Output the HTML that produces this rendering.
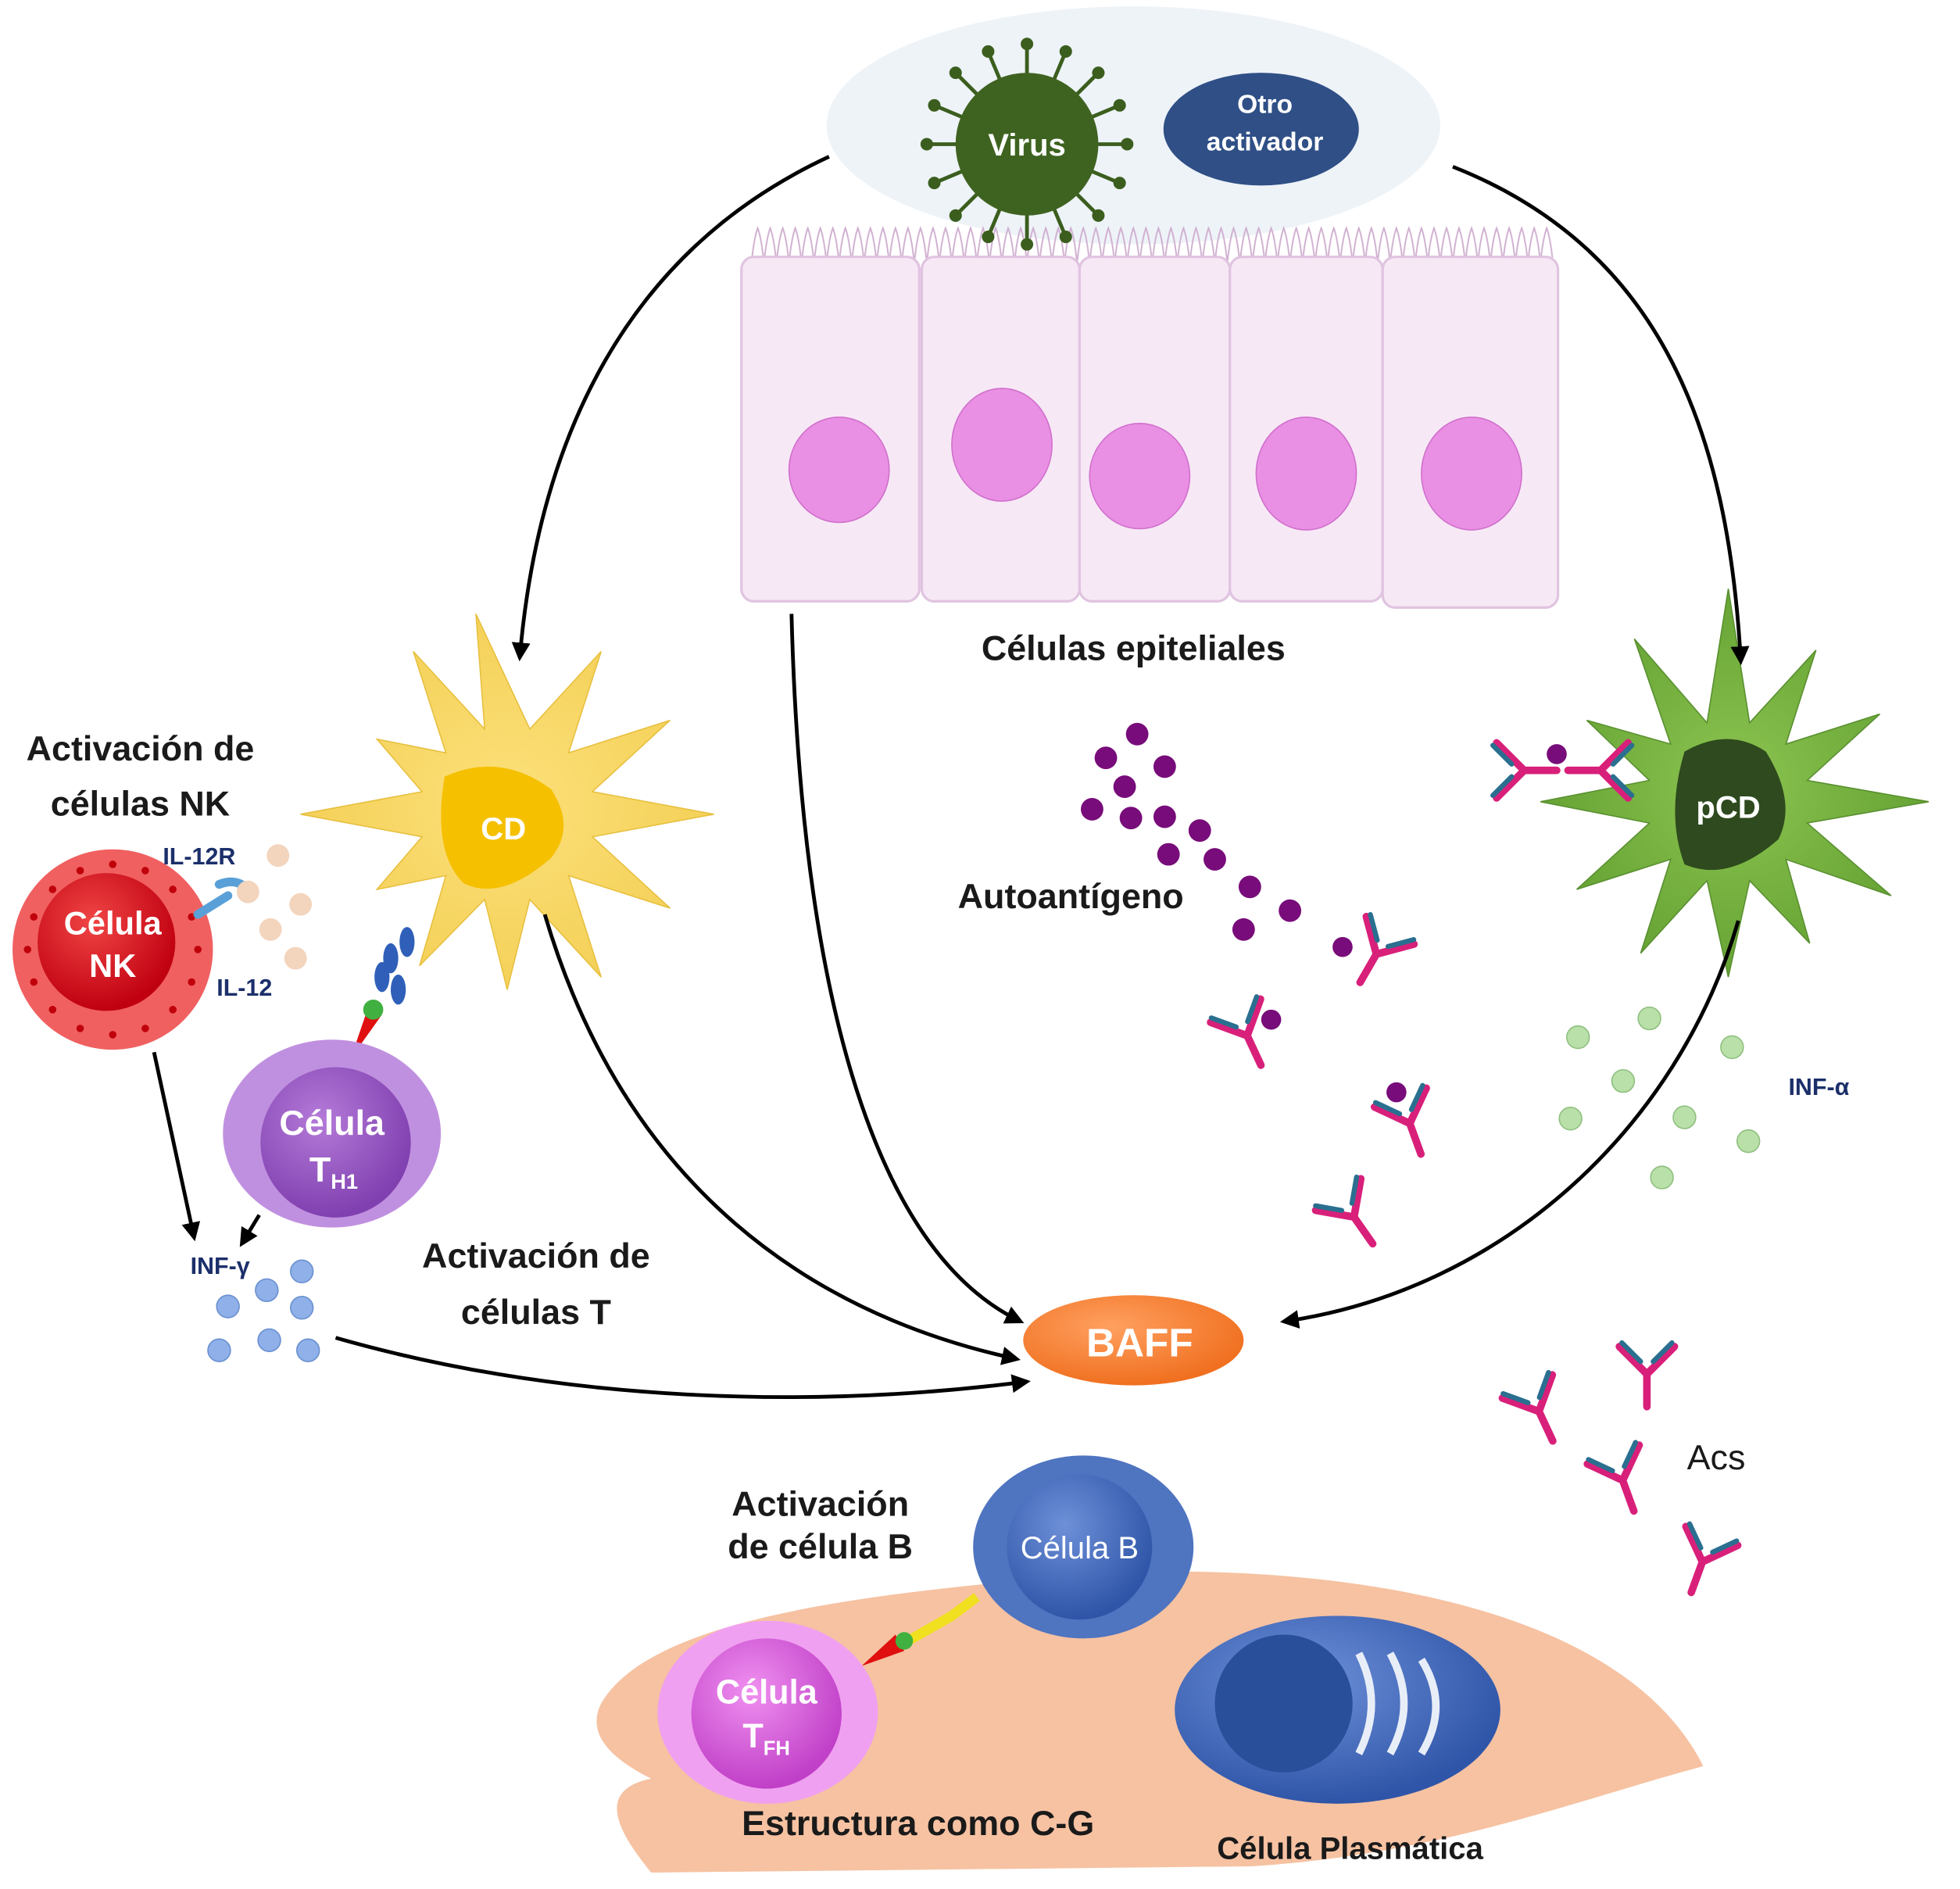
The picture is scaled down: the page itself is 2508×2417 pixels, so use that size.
<!DOCTYPE html>
<html><head><meta charset="utf-8">
<style>html,body{margin:0;padding:0;background:#fff}svg{display:block}
text{font-family:"Liberation Sans",sans-serif;font-weight:bold}</style></head>
<body>
<svg width="2508" height="2417" viewBox="0 0 1565 1508" xmlns="http://www.w3.org/2000/svg">
<defs>
<radialGradient id="gRed" cx="40%" cy="35%" r="65%"><stop offset="0" stop-color="#f04545"/><stop offset="1" stop-color="#c00010"/></radialGradient>
<radialGradient id="gPur" cx="40%" cy="35%" r="65%"><stop offset="0" stop-color="#b47ad8"/><stop offset="1" stop-color="#8040b0"/></radialGradient>
<radialGradient id="gBlue" cx="40%" cy="35%" r="65%"><stop offset="0" stop-color="#6d90d8"/><stop offset="1" stop-color="#2f55a8"/></radialGradient>
<radialGradient id="gPink" cx="40%" cy="35%" r="65%"><stop offset="0" stop-color="#f090f0"/><stop offset="1" stop-color="#c040c8"/></radialGradient>
<radialGradient id="gOr" cx="40%" cy="35%" r="65%"><stop offset="0" stop-color="#ffa060"/><stop offset="1" stop-color="#f07020"/></radialGradient>
<radialGradient id="gY" cx="50%" cy="50%" r="55%"><stop offset="0" stop-color="#fce07a"/><stop offset="1" stop-color="#f3cf55"/></radialGradient>
<radialGradient id="gG" cx="50%" cy="50%" r="55%"><stop offset="0" stop-color="#8cc450"/><stop offset="1" stop-color="#62a032"/></radialGradient>
<marker id="ar" viewBox="0 0 10 10" refX="8" refY="5" markerWidth="5" markerHeight="5" orient="auto"><path d="M0,0L10,5L0,10z" fill="#000"/></marker>
<pattern id="villi" x="0" y="0" width="10" height="30" patternUnits="userSpaceOnUse"><path d="M0,30 Q2,10 5,2 Q8,10 10,30" fill="none" stroke="#d0b0d0" stroke-width="1.2"/></pattern>
<symbol id="ab" viewBox="-30 -30 60 60" overflow="visible">
<g fill="none" stroke-linecap="round">
<path d="M0,28V2M0,2L-22,-20M0,2L22,-20" stroke="#d8207a" stroke-width="6"/>
<path d="M-5,-8L-20,-23M5,-8L20,-23" stroke="#2a6f90" stroke-width="4"/>
</g></symbol>
</defs>

<ellipse cx="905" cy="100" rx="245" ry="95" fill="#eef3f8"/>
<path d="M480,1360 C520,1290 700,1270 900,1255 C1100,1250 1300,1290 1360,1410 C1250,1440 1150,1480 1000,1490 L520,1495 C500,1470 470,1430 520,1420 C480,1400 470,1380 480,1360z" fill="#f6c2a2"/>

<rect x="600" y="180" width="640" height="28" fill="url(#villi)"/>
<g fill="#f7e8f6" stroke="#e0c4e0" stroke-width="2">
<rect x="592" y="205" width="142" height="275" rx="10"/>
<rect x="736" y="205" width="126" height="275" rx="10"/>
<rect x="862" y="205" width="120" height="275" rx="10"/>
<rect x="982" y="205" width="122" height="275" rx="10"/>
<rect x="1104" y="205" width="140" height="280" rx="10"/>
</g>
<g fill="#ea90e4" stroke="#d070cc" stroke-width="1">
<ellipse cx="670" cy="375" rx="40" ry="42"/>
<ellipse cx="800" cy="355" rx="40" ry="45"/>
<ellipse cx="910" cy="380" rx="40" ry="42"/>
<ellipse cx="1043" cy="378" rx="40" ry="45"/>
<ellipse cx="1175" cy="378" rx="40" ry="45"/>
</g>

<!-- virus -->
<g stroke="#3b5e1e" stroke-width="3">
<line x1="900" y1="115" x2="740" y2="115"/><line x1="894" y1="146" x2="746" y2="84"/>
<line x1="877" y1="172" x2="763" y2="58"/><line x1="851" y1="189" x2="789" y2="41"/>
<line x1="820" y1="195" x2="820" y2="35"/><line x1="789" y1="189" x2="851" y2="41"/>
<line x1="763" y1="172" x2="877" y2="58"/><line x1="746" y1="146" x2="894" y2="84"/>
</g>
<g fill="#3b5e1e"><circle cx="900" cy="115" r="5"/><circle cx="894" cy="146" r="5"/><circle cx="877" cy="172" r="5"/><circle cx="851" cy="189" r="5"/><circle cx="820" cy="195" r="5"/><circle cx="789" cy="189" r="5"/><circle cx="763" cy="172" r="5"/><circle cx="746" cy="146" r="5"/><circle cx="740" cy="115" r="5"/><circle cx="746" cy="84" r="5"/><circle cx="763" cy="58" r="5"/><circle cx="789" cy="41" r="5"/><circle cx="820" cy="35" r="5"/><circle cx="851" cy="41" r="5"/><circle cx="877" cy="58" r="5"/><circle cx="894" cy="84" r="5"/></g>
<circle cx="820" cy="115" r="57" fill="#3e6320"/>
<text x="820" y="124" fill="#fff" font-size="25" text-anchor="middle">Virus</text>
<ellipse cx="1007" cy="103" rx="78" ry="45" fill="#2f4f86"/>
<text x="1010" y="90" fill="#fff" font-size="21" text-anchor="middle">Otro</text>
<text x="1010" y="120" fill="#fff" font-size="21" text-anchor="middle">activador</text>

<!-- CD star -->
<polygon fill="url(#gY)" stroke="#e8c040" stroke-width="1" points="570,650 473,668 535,725 454,699 480,780 423,718 405,790 387,718 335,771 356,699 301,710 337,668 240,650 337,632 301,590 356,601 330,520 387,582 380,490 423,582 480,520 454,601 535,575 473,632"/>
<path d="M355,620 Q400,600 440,630 Q460,660 440,685 Q400,720 370,705 Q345,680 355,620z" fill="#f5c000"/>
<text x="402" y="670" fill="#fff" font-size="25" text-anchor="middle">CD</text>

<!-- pCD star -->
<polygon fill="url(#gG)" stroke="#5a9030" stroke-width="1" points="1540,640 1443,657 1510,715 1426,686 1445,753 1397,703 1380,780 1363,703 1310,761 1334,686 1259,710 1317,657 1230,640 1317,623 1267,575 1334,594 1305,510 1363,577 1380,470 1397,577 1450,519 1426,594 1501,570 1443,623"/>
<path d="M1345,600 Q1380,580 1410,600 Q1435,640 1420,670 Q1380,705 1345,690 Q1330,650 1345,600z" fill="#2e4a1e"/>
<text x="1380" y="653" fill="#fff" font-size="25" text-anchor="middle">pCD</text>

<!-- NK -->
<circle cx="90" cy="758" r="80" fill="#f06060"/>
<g fill="#c0000a"><circle cx="158" cy="758" r="3"/><circle cx="153" cy="784" r="3"/><circle cx="138" cy="806" r="3"/><circle cx="116" cy="821" r="3"/><circle cx="90" cy="826" r="3"/><circle cx="64" cy="821" r="3"/><circle cx="42" cy="806" r="3"/><circle cx="27" cy="784" r="3"/><circle cx="22" cy="758" r="3"/><circle cx="27" cy="732" r="3"/><circle cx="42" cy="710" r="3"/><circle cx="64" cy="695" r="3"/><circle cx="90" cy="690" r="3"/><circle cx="116" cy="695" r="3"/><circle cx="138" cy="710" r="3"/><circle cx="153" cy="732" r="3"/></g>
<circle cx="85" cy="752" r="55" fill="url(#gRed)"/>
<text x="90" y="746" fill="#fff" font-size="26" text-anchor="middle">Célula</text>
<text x="90" y="780" fill="#fff" font-size="26" text-anchor="middle">NK</text>
<path d="M158,730 L182,715 M175,706 Q190,700 200,712" stroke="#5aa0d8" stroke-width="7" fill="none" stroke-linecap="round"/>
<g fill="#f3d4bc"><circle cx="222" cy="683" r="9"/><circle cx="198" cy="712" r="9"/><circle cx="240" cy="722" r="9"/><circle cx="216" cy="742" r="9"/><circle cx="236" cy="765" r="9"/></g>
<text x="130" y="690" fill="#1b2f6a" font-size="19">IL-12R</text>
<text x="173" y="795" fill="#1b2f6a" font-size="19">IL-12</text>

<g fill="#2f5fb8"><ellipse cx="325" cy="752" rx="6" ry="12"/><ellipse cx="312" cy="765" rx="6" ry="12"/><ellipse cx="305" cy="780" rx="6" ry="12"/><ellipse cx="318" cy="790" rx="6" ry="12"/></g>
<path d="M280,845 L292,810 L305,810z" fill="#e01010"/>
<circle cx="298" cy="806" r="8" fill="#40b040"/>

<ellipse cx="265" cy="905" rx="87" ry="75" fill="#c090e0"/>
<circle cx="268" cy="912" r="60" fill="url(#gPur)"/>
<text x="265" y="906" fill="#fff" font-size="28" text-anchor="middle">Célula</text>
<text x="247" y="943" fill="#fff" font-size="28">T<tspan font-size="17" dy="6">H1</tspan></text>

<text x="152" y="1017" fill="#1b2f6a" font-size="19">INF-γ</text>
<g fill="#8fb0e8" stroke="#6a90d0"><circle cx="213" cy="1030" r="9"/><circle cx="241" cy="1015" r="9"/><circle cx="182" cy="1043" r="9"/><circle cx="241" cy="1044" r="9"/><circle cx="175" cy="1078" r="9"/><circle cx="215" cy="1070" r="9"/><circle cx="246" cy="1078" r="9"/></g>

<g fill="#780c7a"><circle cx="908" cy="586" r="9"/><circle cx="883" cy="605" r="9"/><circle cx="930" cy="612" r="9"/><circle cx="898" cy="628" r="9"/><circle cx="872" cy="646" r="9"/><circle cx="903" cy="653" r="9"/><circle cx="930" cy="652" r="9"/><circle cx="958" cy="663" r="9"/><circle cx="933" cy="682" r="9"/><circle cx="970" cy="686" r="9"/><circle cx="998" cy="708" r="9"/><circle cx="1030" cy="727" r="9"/><circle cx="993" cy="742" r="9"/><circle cx="1072" cy="756" r="8"/><circle cx="1015" cy="814" r="8"/><circle cx="1115" cy="872" r="8"/><circle cx="1243" cy="602" r="8"/></g>
<text x="855" y="725" fill="#1a1a1a" font-size="28" text-anchor="middle">Autoantígeno</text>

<use href="#ab" x="1070" y="730" width="60" height="60" transform="rotate(30 1100 760)"/>
<use href="#ab" x="965" y="795" width="60" height="60" transform="rotate(-25 995 825)"/>
<use href="#ab" x="1095" y="865" width="60" height="60" transform="rotate(-20 1125 895)"/>
<use href="#ab" x="1050" y="940" width="60" height="60" transform="rotate(-35 1080 970)"/>
<use href="#ab" x="1185" y="585" width="60" height="60" transform="rotate(-90 1215 615)"/>
<use href="#ab" x="1250" y="585" width="60" height="60" transform="rotate(90 1280 615)"/>
<use href="#ab" x="1285" y="1065" width="60" height="60"/>
<use href="#ab" x="1198" y="1095" width="60" height="60" transform="rotate(-25 1228 1125)"/>
<use href="#ab" x="1265" y="1150" width="60" height="60" transform="rotate(-20 1295 1180)"/>
<use href="#ab" x="1330" y="1215" width="60" height="60" transform="rotate(20 1360 1245)"/>
<text x="1347" y="1173" fill="#1a1a1a" font-size="28" style="font-weight:normal">Acs</text>

<g fill="#b8e0a8" stroke="#90c080"><circle cx="1260" cy="828" r="9"/><circle cx="1317" cy="813" r="9"/><circle cx="1383" cy="836" r="9"/><circle cx="1296" cy="863" r="9"/><circle cx="1254" cy="893" r="9"/><circle cx="1345" cy="892" r="9"/><circle cx="1396" cy="911" r="9"/><circle cx="1327" cy="940" r="9"/></g>
<text x="1428" y="874" fill="#1b2f6a" font-size="19">INF-α</text>

<ellipse cx="905" cy="1070" rx="88" ry="36" fill="url(#gOr)"/>
<text x="910" y="1083" fill="#fff" font-size="32" text-anchor="middle">BAFF</text>

<ellipse cx="865" cy="1235" rx="88" ry="73" fill="#4f74c0"/>
<circle cx="862" cy="1235" r="58" fill="url(#gBlue)"/>
<text x="862" y="1244" fill="#fff" font-size="25" text-anchor="middle" style="font-weight:normal">Célula B</text>
<path d="M725,1310 L760,1290 L780,1275" stroke="#f0e020" stroke-width="8" fill="none"/>
<path d="M688,1330 L715,1305 L722,1318z" fill="#e01010"/>
<circle cx="722" cy="1310" r="7" fill="#40b040"/>
<ellipse cx="613" cy="1367" rx="88" ry="73" fill="#f0a0f0"/>
<circle cx="612" cy="1368" r="60" fill="url(#gPink)"/>
<text x="612" y="1360" fill="#fff" font-size="27" text-anchor="middle">Célula</text>
<text x="593" y="1395" fill="#fff" font-size="27">T<tspan font-size="16" dy="6">FH</tspan></text>
<ellipse cx="1068" cy="1365" rx="130" ry="75" fill="url(#gBlue)"/>
<circle cx="1025" cy="1360" r="55" fill="#2a4f9a"/>
<path d="M1085,1320 Q1105,1360 1085,1400 M1110,1320 Q1132,1360 1110,1400 M1135,1325 Q1158,1362 1135,1400" stroke="#e8eef8" stroke-width="6" fill="none"/>

<g fill="#1a1a1a">
<text x="905" y="527" font-size="28" text-anchor="middle">Células epiteliales</text>
<text x="112" y="607" font-size="28" text-anchor="middle">Activación de</text>
<text x="112" y="651" font-size="28" text-anchor="middle">células NK</text>
<text x="428" y="1012" font-size="28" text-anchor="middle">Activación de</text>
<text x="428" y="1057" font-size="28" text-anchor="middle">células T</text>
<text x="655" y="1210" font-size="28" text-anchor="middle">Activación</text>
<text x="655" y="1244" font-size="28" text-anchor="middle">de célula B</text>
<text x="733" y="1465" font-size="28" text-anchor="middle">Estructura como C-G</text>
<text x="1078" y="1484" font-size="25" text-anchor="middle">Célula Plasmática</text>
</g>

<g fill="none" stroke="#000" stroke-width="3" marker-end="url(#ar)">
<path d="M662,125 C500,200 430,350 415,525"/>
<path d="M1160,133 C1330,200 1380,350 1390,528"/>
<path d="M632,490 C640,800 700,1000 815,1055"/>
<path d="M435,730 C500,950 650,1050 812,1085"/>
<path d="M1388,735 C1340,900 1200,1030 1025,1055"/>
<path d="M268,1068 C450,1120 650,1125 820,1103"/>
<path d="M123,840 L155,988"/>
<path d="M207,970 L193,993"/>
</g>
</svg>
</body></html>
